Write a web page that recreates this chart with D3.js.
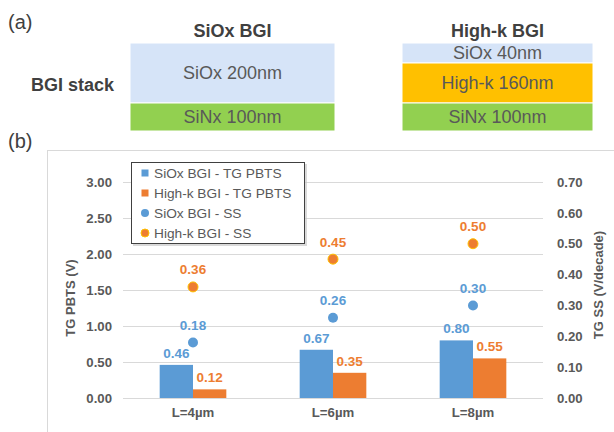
<!DOCTYPE html>
<html>
<head>
<meta charset="utf-8">
<script src="https://cdn.jsdelivr.net/npm/d3@7"></script>
<style>
  html, body { margin: 0; padding: 0; background: #fff; }
  svg { display: block; font-family: "Liberation Sans", Arial, sans-serif; }
</style>
</head>
<body>
<svg id="fig" width="614" height="432"></svg>
<script>
// ---- data ----
const categories = ["L=4µm", "L=6µm", "L=8µm"];
const sioxPbts = [0.46, 0.67, 0.80];
const highkPbts = [0.12, 0.35, 0.55];
const sioxSS = [0.18, 0.26, 0.30];
const highkSS = [0.36, 0.45, 0.50];
const leftTicks = [0, 0.5, 1.0, 1.5, 2.0, 2.5, 3.0];
const rightTicks = [0, 0.1, 0.2, 0.3, 0.4, 0.5, 0.6, 0.7];
const legendLabels = ["SiOx BGI - TG PBTS", "High-k BGI - TG PBTS", "SiOx BGI - SS", "High-k BGI - SS"];

// stack diagram layers (top to bottom)
const sioxStack = ["SiOx 200nm", "SiNx 100nm"];
const highkStack = ["SiOx 40nm", "High-k 160nm", "SiNx 100nm"];

const BLUE = "#5B9BD5", ORANGE = "#ED7D31", GOLD = "#FFC000";
const TEXT = "#595959", DARK = "#404040";
const layerColor = { "SiOx": "#D6E4F8", "High-k": "#FFC000", "SiNx": "#92D050" };

const svg = d3.select("#fig");

// ---- (a) stack diagrams ----
svg.append("text").attr("x", 8).attr("y", 29).attr("font-size", 20).attr("fill", DARK).text("(a)");
svg.append("text").attr("x", 31).attr("y", 91).attr("font-size", 18).attr("font-weight", "bold")
  .attr("fill", DARK).text("BGI stack");

// drawn layer boundaries (schematic, not to scale)
function drawStack(title, layers, x0, x1, edges) {
  svg.append("text").attr("x", (x0 + x1) / 2).attr("y", 37).attr("text-anchor", "middle")
    .attr("font-size", 18).attr("font-weight", "bold").attr("fill", DARK).text(title);
  const g = svg.append("g");
  layers.forEach((name, i) => {
    const a = edges[i], b = edges[i + 1];
    const key = name.split(" ")[0];
    g.append("rect").attr("x", x0).attr("y", a).attr("width", x1 - x0).attr("height", b - a)
      .attr("fill", layerColor[key]).attr("stroke", "#fff").attr("stroke-width", 1);
    g.append("text").attr("x", (x0 + x1) / 2).attr("y", (a + b) / 2)
      .attr("dy", "0.36em").attr("text-anchor", "middle").attr("font-size", 18)
      .attr("fill", TEXT).text(name);
  });
}
drawStack("SiOx BGI", sioxStack, 130, 335, [43, 103, 131]);
drawStack("High-k BGI", highkStack, 402, 593, [43, 63, 103, 131]);

// ---- (b) chart ----
svg.append("text").attr("x", 8).attr("y", 148).attr("font-size", 20).attr("fill", DARK).text("(b)");

// chart area frame
svg.append("rect").attr("x", 47.5).attr("y", 150.5).attr("width", 600).attr("height", 300)
  .attr("fill", "#fff").attr("stroke", "#D9D9D9").attr("stroke-width", 1);

const plot = { left: 123, right: 543, top: 182, bottom: 398 };
const x0 = d3.scaleBand().domain(categories).range([plot.left, plot.right]).padding(0);
const barW = x0.bandwidth() * 0.238;
const x1 = d3.scaleBand().domain(["siox", "highk"])
  .range([x0.bandwidth() / 2 - barW, x0.bandwidth() / 2 + barW]).padding(0);
const yL = d3.scaleLinear().domain([0, 3]).range([plot.bottom, plot.top]);
const yR = d3.scaleLinear().domain([0, 0.7]).range([plot.bottom, plot.top]);

const FONT = "Liberation Sans, Arial, sans-serif";

// gridlines
svg.append("g").selectAll("line").data(leftTicks).join("line")
  .attr("x1", plot.left).attr("x2", plot.right)
  .attr("y1", d => Math.round(yL(d)) + 0.5).attr("y2", d => Math.round(yL(d)) + 0.5)
  .attr("stroke", "#D9D9D9").attr("stroke-width", 1);

// left axis
const axL = svg.append("g").attr("transform", `translate(${plot.left},0)`)
  .call(d3.axisLeft(yL).tickValues(leftTicks).tickFormat(d3.format(".2f")).tickSize(0).tickPadding(11));
axL.select(".domain").remove();
axL.selectAll("text").attr("font-size", 13.2).attr("font-weight", "bold").attr("fill", TEXT)
  .attr("font-family", FONT);

// right axis
const axR = svg.append("g").attr("transform", `translate(${plot.right},0)`)
  .call(d3.axisRight(yR).tickValues(rightTicks).tickFormat(d3.format(".2f")).tickSize(0).tickPadding(14));
axR.select(".domain").remove();
axR.selectAll("text").attr("font-size", 13.2).attr("font-weight", "bold").attr("fill", TEXT)
  .attr("font-family", FONT);

// category labels
const axB = svg.append("g").attr("transform", `translate(0,${plot.bottom})`)
  .call(d3.axisBottom(x0).tickSize(0).tickPadding(10));
axB.select(".domain").remove();
axB.selectAll("text").attr("font-size", 13.2).attr("font-weight", "bold").attr("fill", TEXT)
  .attr("font-family", FONT);

// axis titles
svg.append("text").attr("transform", "translate(75,298) rotate(-90)").attr("text-anchor", "middle")
  .attr("font-size", 13).attr("font-weight", "bold").attr("fill", TEXT).text("TG PBTS (V)");
svg.append("text").attr("transform", "translate(603,285) rotate(-90)").attr("text-anchor", "middle")
  .attr("font-size", 13).attr("font-weight", "bold").attr("fill", TEXT).text("TG SS (V/decade)");

// bars
const barSeries = [
  { key: "siox", values: sioxPbts, color: BLUE },
  { key: "highk", values: highkPbts, color: ORANGE }
];
barSeries.forEach(s => {
  const g = svg.append("g");
  g.selectAll("rect").data(categories).join("rect")
    .attr("x", c => x0(c) + x1(s.key))
    .attr("y", (c, i) => yL(s.values[i]))
    .attr("width", x1.bandwidth())
    .attr("height", (c, i) => yL(0) - yL(s.values[i]))
    .attr("fill", s.color);
  g.selectAll("text").data(categories).join("text")
    .attr("x", c => x0(c) + x1(s.key) + x1.bandwidth() / 2)
    .attr("y", (c, i) => yL(s.values[i]) - 7)
    .attr("text-anchor", "middle").attr("font-size", 13.5).attr("font-weight", "bold")
    .attr("fill", s.color).text((c, i) => d3.format(".2f")(s.values[i]));
});

// SS markers
const dotSeries = [
  { values: sioxSS, color: BLUE, stroke: "none" },
  { values: highkSS, color: ORANGE, stroke: GOLD }
];
dotSeries.forEach(s => {
  const g = svg.append("g");
  g.selectAll("circle").data(categories).join("circle")
    .attr("cx", c => x0(c) + x0.bandwidth() / 2)
    .attr("cy", (c, i) => yR(s.values[i]))
    .attr("r", 5)
    .attr("fill", s.color).attr("stroke", s.stroke).attr("stroke-width", 1);
  g.selectAll("text").data(categories).join("text")
    .attr("x", c => x0(c) + x0.bandwidth() / 2)
    .attr("y", (c, i) => yR(s.values[i]) - 12.5)
    .attr("text-anchor", "middle").attr("font-size", 13.5).attr("font-weight", "bold")
    .attr("fill", s.color).text((c, i) => d3.format(".2f")(s.values[i]));
});

// legend
const lg = svg.append("g");
lg.append("rect").attr("x", 133).attr("y", 164).attr("width", 174).attr("height", 82)
  .attr("fill", "#BFBFBF").attr("opacity", 0.6);
lg.append("rect").attr("x", 131.5).attr("y", 162.5).attr("width", 173).attr("height", 81)
  .attr("fill", "#fff").attr("stroke", DARK).attr("stroke-width", 1);
const legendY = [173, 193, 213, 233];
legendLabels.forEach((lab, i) => {
  const color = i % 2 === 0 ? BLUE : ORANGE;
  if (i < 2) {
    lg.append("rect").attr("x", 141.5).attr("y", legendY[i] - 3.5).attr("width", 7).attr("height", 7).attr("fill", color);
  } else {
    lg.append("circle").attr("cx", 145).attr("cy", legendY[i]).attr("r", 4)
      .attr("fill", color).attr("stroke", i === 3 ? GOLD : "none").attr("stroke-width", 1);
  }
  lg.append("text").attr("x", 154).attr("y", legendY[i]).attr("dy", "0.36em")
    .attr("font-size", 13.7).attr("fill", TEXT).text(lab);
});
</script>
</body>
</html>
